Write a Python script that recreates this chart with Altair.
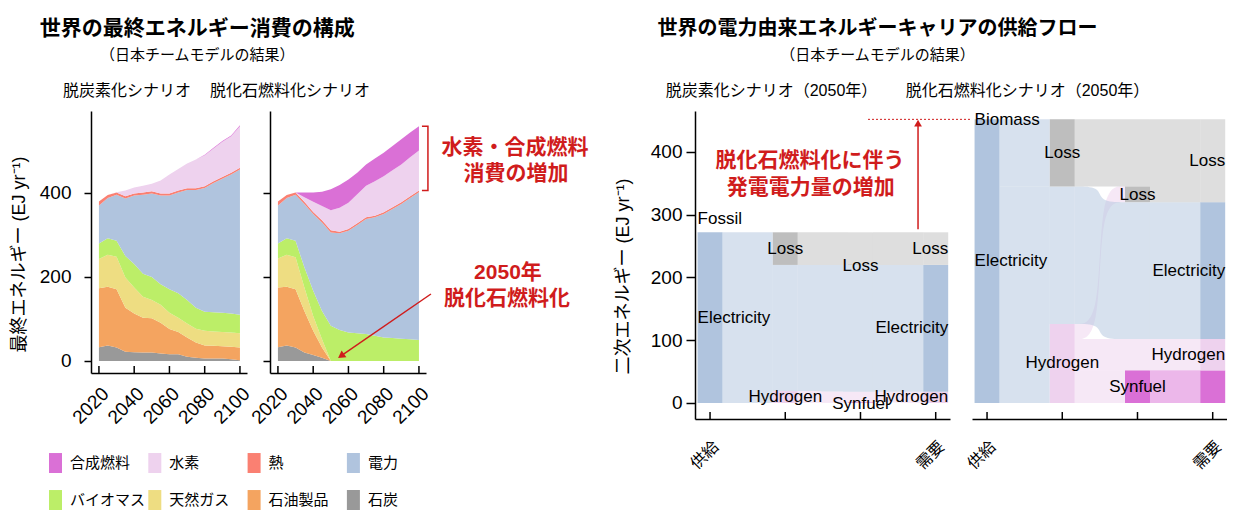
import altair as alt
import pandas as pd

FONT = "Liberation Sans, Noto Sans CJK JP, sans-serif"
RED = "#D01C1C"

# ---------------- left: final energy consumption ----------------
years = list(range(2020, 2101, 5))
categories = ["石炭", "石油製品", "天然ガス", "バイオマス", "電力", "熱", "水素", "合成燃料"]
cat_colors = ["#999999", "#F4A460", "#EEDD82", "#BCEE68", "#B0C4DE", "#FA8072", "#EED2EE", "#DA70D6"]
legend_order = ["合成燃料", "水素", "熱", "電力", "バイオマス", "天然ガス", "石油製品", "石炭"]
legend_cols = [0, 1, 2, 3, 0, 1, 2, 3]
legend_rows = [0, 0, 0, 0, 1, 1, 1, 1]
year_ticks = [2020, 2040, 2060, 2080, 2100]

# 脱炭素化シナリオ (EJ/yr)
dc_coal = [33, 37, 32, 22, 21, 20, 20, 18, 16, 16, 10, 8, 6, 6, 6, 4, 2]
dc_oil = [140, 140, 139, 105, 92, 83, 82, 73, 60, 53, 46, 36, 31, 30, 29, 30, 30]
dc_gas = [70, 76, 77, 72, 62, 50, 43, 43, 39, 34, 33, 33, 35, 34, 34, 34, 34]
dc_bio = [37, 39, 38, 51, 56, 55, 55, 49, 56, 58, 56, 50, 45, 46, 46, 45, 44]
dc_elec = [90, 96, 110, 137, 163, 188, 199, 211, 223, 240, 262, 280, 295, 308, 319, 331, 346]
dc_heat = [10, 7, 5, 5, 5, 5, 5, 5, 5, 5, 4, 4, 4, 4, 4, 4, 4]
dc_h2 = [0, 0, 1, 14, 14, 16, 18, 31, 45, 51, 59, 69, 74, 78, 84, 87, 99]
dc_syn = [0, 0, 0, 0, 0, 0, 0, 0, 0, 0, 0, 0, 1, 2, 2, 2, 2]

# 脱化石燃料化シナリオ (EJ/yr)
df_coal = [33, 37, 32, 20, 14, 8, 0, 0, 0, 0, 0, 0, 0, 0, 0, 0, 0]
df_oil = [142, 140, 139, 99, 58, 24, 0, 0, 0, 0, 0, 0, 0, 0, 0, 0, 0]
df_gas = [69, 76, 76, 56, 35, 20, 0, 0, 0, 0, 0, 0, 0, 0, 0, 0, 0]
df_bio = [36, 39, 39, 48, 60, 67, 84, 74, 68, 66, 64, 60, 56, 55, 53, 52, 50]
df_elec = [90, 96, 110, 151, 183, 211, 222, 230, 242, 258, 274, 282, 294, 307, 321, 336, 352]
df_heat = [10, 7, 5, 5, 5, 5, 5, 4, 4, 4, 4, 4, 4, 4, 4, 4, 4]
df_h2 = [0, 0, 0, 11, 24, 34, 48, 57, 63, 69, 75, 82, 86, 88, 90, 93, 95]
df_syn = [0, 0, 0, 11, 22, 34, 50, 54, 55, 51, 51, 54, 56, 58, 60, 59, 58]

dc_all = [dc_coal, dc_oil, dc_gas, dc_bio, dc_elec, dc_heat, dc_h2, dc_syn]
df_all = [df_coal, df_oil, df_gas, df_bio, df_elec, df_heat, df_h2, df_syn]

# annotation positions (data units of the right area panel)
ann_left_text = ["水素・合成燃料", "消費の増加", "2050年", "脱化石燃料化"]
ann_left_x = [2154.5, 2155, 2150.5, 2150]
ann_left_y = [507, 445, 209, 148]
arrow_left_x = [2106.8, 2055.8]
arrow_left_y = [159.5, 12]
bracket_x = [2101.7, 2105.1]

# ---------------- right: sankey ----------------
stage_ticks = [1, 2, 3, 4]
# 脱炭素化シナリオ (2050年)
s1_col = [1, 2, 2, 2, 3, 3, 3, 3, 3, 4, 4, 4]
s1_name = ["Electricity", "Hydrogen", "Electricity", "Loss", "Synfuel", "Hydrogen",
           "Electricity", "Loss", "Loss", "Hydrogen", "Electricity", "Loss"]
s1_lo = [0, 0, 19, 220, 0, 1, 18, 220, 221, 0, 18, 220]
s1_hi = [272, 19, 220, 272, 1, 18, 220, 221, 272, 18, 220, 272]
s1_kind = ["elec", "hyd", "elec_p", "loss", "syn", "hyd_p", "elec_p", "loss", "loss_p",
           "hyd", "elec", "loss_p"]
s1_links = [
    (1, 0, 19, 0, 19, "elec"), (1, 19, 220, 19, 220, "elec"), (1, 220, 272, 220, 272, "elec"),
    (2, 0, 1, 0, 1, "hyd"), (2, 1, 19, 1, 18, "hyd"), (2, 19, 220, 18, 220, "elec"),
    (2, 220, 272, 220, 272, "loss"),
    (3, 1, 18, 0, 18, "hyd"), (3, 18, 220, 18, 220, "elec"), (3, 220, 272, 220, 272, "loss"),
]
s1_labels = [("Fossil", 1, 293, "left"), ("Electricity", 1, 136, "left"),
             ("Loss", 2, 246, "center"), ("Hydrogen", 2, 9.5, "center"),
             ("Loss", 3, 218, "center"), ("Synfuel", 3, -2, "center"),
             ("Electricity", 4, 119, "right"), ("Loss", 4, 246, "right"),
             ("Hydrogen", 4, 9, "right")]

# 脱化石燃料化シナリオ (2050年)
s2_col = [1, 2, 2, 2, 3, 3, 3, 3, 3, 4, 4, 4, 4]
s2_name = ["Electricity", "Hydrogen", "Electricity", "Loss", "Synfuel", "Hydrogen",
           "Electricity", "Loss", "Loss", "Synfuel", "Hydrogen", "Electricity", "Loss"]
s2_lo = [0, 0, 126, 345, 0, 52, 102, 320, 345, 0, 52, 102, 320]
s2_hi = [452, 126, 345, 452, 52, 102, 320, 345, 452, 52, 102, 320, 452]
s2_kind = ["elec", "hyd", "elec_p", "loss", "syn", "hyd_p", "elec_p", "loss", "loss_p",
           "syn", "hyd", "elec", "loss_p"]
s2_links = [
    (1, 0, 126, 0, 126, "elec"), (1, 126, 345, 126, 345, "elec"), (1, 345, 452, 345, 452, "elec"),
    (2, 0, 52, 0, 52, "hyd"), (2, 52, 102, 52, 102, "hyd"), (2, 102, 126, 320, 345, "hyd"),
    (2, 126, 345, 102, 320, "elec"), (2, 345, 452, 345, 452, "loss"),
    (3, 0, 52, 0, 52, "syn"), (3, 52, 102, 52, 102, "hyd"), (3, 102, 320, 102, 320, "elec"),
    (3, 320, 452, 320, 452, "loss"),
]
s2_labels = [("Biomass", 1, 451, "left"), ("Electricity", 1, 226, "left"),
             ("Loss", 2, 398, "center"), ("Hydrogen", 2, 63, "center"),
             ("Loss", 3, 332, "center"), ("Synfuel", 3, 26, "center"),
             ("Loss", 4, 386, "right"), ("Electricity", 4, 211, "right"),
             ("Hydrogen", 4, 77, "right")]

ann_right_text = ["脱化石燃料化に伴う", "発電電力量の増加"]
ann_right_x = [2.33, 2.34]
ann_right_y = [386, 343]
arrow_right_x = 3.765
arrow_right_y = [277, 446]
dotted_x = [3.10, 4.48]
dotted_y = 452

kind_color = {"elec": "#B0C4DE", "hyd": "#EED2EE", "syn": "#DA70D6", "loss": "#BEBEBE"}

# ---------------- helpers ----------------
XDOM = [2015.5, 2104]
YDOM = [-28.6, 595.2]
PW, PH = 156, 262
TICK_PX = 7
CAT_SCALE = alt.Scale(domain=categories, range=cat_colors)


def stack_df(series_list):
    rows = []
    for k, (cat, vals) in enumerate(zip(categories, series_list)):
        for yr, v in zip(years, vals):
            rows.append({"year": yr, "cat": cat, "value": v, "ord": k})
    return pd.DataFrame(rows)


def area_x(axis_on=True):
    ax = alt.Axis(values=year_ticks, format="d", labelAngle=315, labelAlign="right",
                  labelBaseline="top", labelPadding=4, labelFontSize=19, tickSize=TICK_PX,
                  tickOpacity=0, title=None, labelOverlap=False) if axis_on else None
    return alt.X("year:Q", scale=alt.Scale(domain=XDOM, nice=False, zero=False), axis=ax)


def area_y(first, axis_on=True):
    if not axis_on:
        ax = None
    elif first:
        ax = alt.Axis(values=[0, 200, 400], tickSize=7, labelFontSize=19, labelPadding=13,
                      title="最終エネルギー (EJ yr⁻¹)", titleFontSize=18, titleFontWeight="normal",
                      titleAngle=270, titleX=-72, titleY=143, titleAlign="center",
                      titleBaseline="middle", labelOverlap=False)
    else:
        ax = alt.Axis(values=[0, 200, 400], tickSize=7, labels=False, title=None)
    return alt.Y("value:Q", scale=alt.Scale(domain=YDOM, nice=False, zero=False), axis=ax)


# legend (drawn inside the first panel with its own position scales) from the category lists
leg = pd.DataFrame({"cat": legend_order, "col": legend_cols, "row": legend_rows})
leg["x0"] = leg["col"] - 0.0655
leg["x1"] = leg["col"] + 0.0655
leg["y0"] = leg["row"] - 0.27
leg["y1"] = leg["row"] + 0.27
LX = alt.Scale(domain=[0.3575, 1.9285], nice=False, zero=False)
LY = alt.Scale(domain=[-9.514, -2.433], nice=False, zero=False, reverse=True)
leg_sw = alt.Chart(leg).mark_rect().encode(
    x=alt.X("x0:Q", scale=LX, axis=None), x2="x1:Q",
    y=alt.Y("y0:Q", scale=LY, axis=None), y2="y1:Q",
    color=alt.Color("cat:N", scale=CAT_SCALE, legend=None))
leg_tx = alt.Chart(leg).mark_text(align="left", baseline="middle", dx=14.5, fontSize=15,
                                  color="black").encode(
    x=alt.X("col:Q", scale=LX, axis=None), y=alt.Y("row:Q", scale=LY, axis=None), text="cat:N")


def area_panel(series_list, title, dx, first):
    data = stack_df(series_list)
    area = alt.Chart(data).mark_area(interpolate="linear").encode(
        x=area_x(), y=area_y(first),
        color=alt.Color("cat:N", scale=CAT_SCALE, legend=None),
        order=alt.Order("ord:Q", sort="ascending"),
    )
    # inward x ticks (drawn from the axis line upward)
    tk = pd.DataFrame({"year": year_ticks, "value": [YDOM[0]] * len(year_ticks),
                       "v2": [YDOM[0] + TICK_PX * (YDOM[1] - YDOM[0]) / PH] * len(year_ticks)})
    ticks = alt.Chart(tk).mark_rule(color="black", strokeWidth=1.5).encode(
        x=area_x(not first), y=area_y(first, not first), y2="v2:Q")
    layers = [area, ticks]
    if not first:
        total = sum(s[-1] for s in series_list)
        heat_top = sum(s[-1] for s in series_list[:6])
        br = pd.DataFrame({"year": [bracket_x[0], bracket_x[1], bracket_x[1], bracket_x[0]],
                           "value": [total, total, heat_top, heat_top],
                           "k": [0, 1, 2, 3]})
        layers.append(alt.Chart(br).mark_line(color=RED, strokeWidth=1.5).encode(
            x=area_x(), y=area_y(first), order="k:Q"))
        tx = pd.DataFrame({"year": ann_left_x, "value": ann_left_y, "t": ann_left_text})
        layers.append(alt.Chart(tx).mark_text(color=RED, fontSize=21, fontWeight="bold",
                                              align="center", baseline="middle").encode(
            x=area_x(), y=area_y(first), text="t:N"))
        ar = pd.DataFrame({"year": arrow_left_x, "value": arrow_left_y, "k": [0, 1]})
        layers.append(alt.Chart(ar).mark_line(color=RED, strokeWidth=1.5).encode(
            x=area_x(), y=area_y(first), order="k:Q"))
        layers.append(alt.Chart(ar.iloc[[1]]).mark_point(shape="triangle-up", filled=True,
                                                        color=RED, size=70, angle=235,
                                                        opacity=1).encode(
            x=area_x(), y=area_y(first)))
        ch = alt.layer(*layers)
    else:
        ch = alt.layer(area, ticks, leg_sw, leg_tx).resolve_scale(x="independent", y="independent")
    return ch.properties(
        width=PW, height=PH,
        title=alt.TitleParams(title, anchor="middle", frame="group", dx=dx, fontSize=16,
                              fontWeight="normal", offset=12, color="black"))


p1 = area_panel(dc_all, "脱炭素化シナリオ", -42, True)
p2 = area_panel(df_all, "脱化石燃料化シナリオ", -58, False)

# ---------------- sankey panels ----------------
SXD = [0.8, 4.19]
SYD = [-25.5, 465.3]
SX = alt.Scale(domain=SXD, nice=False, zero=False)
SY = alt.Scale(domain=SYD, nice=False, zero=False)
SW, SH = 255, 308
NH = 0.166


def sk_x():
    return alt.X("x:Q", scale=SX, axis=alt.Axis(
        values=stage_ticks,
        labelExpr="datum.value == 1 ? '供給' : (datum.value == 4 ? '需要' : '')",
        labelAngle=315, labelAlign="right", labelBaseline="top", labelPadding=12,
        labelFontSize=16, tickSize=TICK_PX, tickOpacity=0, title=None, labelOverlap=False))


def sk_y(first):
    if first:
        return alt.Y("y:Q", scale=SY, axis=alt.Axis(
            values=[0, 100, 200, 300, 400], tickSize=9, labelFontSize=19, labelPadding=4,
            title="二次エネルギー (EJ yr⁻¹)", titleFontSize=18, titleFontWeight="normal",
            titleAngle=270, titleX=-72, titleY=165, titleAlign="center", titleBaseline="middle",
            labelOverlap=False))
    return alt.Y("y:Q", scale=SY, axis=None)


def sankey_panel(cols, names, lo, hi, kinds, links, labels, title, dx, first):
    nodes = pd.DataFrame({"col": cols, "name": names, "y": lo, "y2f": hi, "kind": kinds})
    nodes["x"] = nodes["col"] - NH
    nodes["x2f"] = nodes["col"] + NH
    nodes["fill"] = [kind_color[k.replace("_p", "")] for k in kinds]
    nodes["op"] = [0.5 if k.endswith("_p") else 1.0 for k in kinds]
    rows = []
    for i, (src, a0, b0, a1, b1, kind) in enumerate(links):
        x0 = src + NH
        x1 = src + 1 - NH
        xm = (x0 + x1) / 2
        pts = [(x0, a0, b0), (xm, a0, b0), (xm + 1e-6, a1, b1), (x1, a1, b1)]
        for k, (xx, l, h) in enumerate(pts):
            rows.append({"lid": i, "k": k, "x": xx, "y": l, "y2f": h, "fill": kind_color[kind]})
    lk = pd.DataFrame(rows)
    lab = pd.DataFrame(labels, columns=["t", "col", "y", "al"])
    lab["x"] = [c - NH if a == "left" else (c + NH if a == "right" else c)
                for c, a in zip(lab["col"], lab["al"])]

    link_layer = alt.Chart(lk).mark_area(interpolate="basis", opacity=0.5).encode(
        x=sk_x(), y=sk_y(first), y2="y2f:Q", detail="lid:N",
        color=alt.Color("fill:N", scale=None))
    node_layer = alt.Chart(nodes).mark_rect().encode(
        x=sk_x(), x2="x2f:Q", y=sk_y(first), y2="y2f:Q",
        color=alt.Color("fill:N", scale=None), opacity=alt.Opacity("op:Q", scale=None))
    tk = pd.DataFrame({"x": stage_ticks, "y": [SYD[0]] * len(stage_ticks),
                       "y2f": [SYD[0] + TICK_PX * (SYD[1] - SYD[0]) / SH] * len(stage_ticks)})
    tick_layer = alt.Chart(tk).mark_rule(color="black", strokeWidth=1.5).encode(
        x=sk_x(), y=sk_y(first), y2="y2f:Q")
    layers = [link_layer, node_layer, tick_layer]
    for al in ["left", "center", "right"]:
        layers.append(alt.Chart(lab[lab["al"] == al]).mark_text(
            align=al, baseline="middle", fontSize=17, color="black").encode(
            x=sk_x(), y=sk_y(first), text="t:N"))
    if first:
        tx = pd.DataFrame({"x": ann_right_x, "y": ann_right_y, "t": ann_right_text})
        layers.append(alt.Chart(tx).mark_text(color=RED, fontSize=21, fontWeight="bold",
                                              align="center", baseline="middle").encode(
            x=sk_x(), y=sk_y(first), text="t:N"))
        ar = pd.DataFrame({"x": [arrow_right_x], "y": [arrow_right_y[0]], "y2f": [arrow_right_y[1]]})
        layers.append(alt.Chart(ar).mark_rule(color=RED, strokeWidth=1.5).encode(
            x=sk_x(), y=sk_y(first), y2="y2f:Q"))
        head = pd.DataFrame({"x": [arrow_right_x], "y": [arrow_right_y[1]]})
        layers.append(alt.Chart(head).mark_point(shape="triangle-up", filled=True, color=RED,
                                                 size=60, opacity=1).encode(
            x=sk_x(), y=sk_y(first)))
        dt = pd.DataFrame({"x": [dotted_x[0]], "x2f": [dotted_x[1]], "y": [dotted_y]})
        layers.append(alt.Chart(dt).mark_rule(color=RED, strokeWidth=1, strokeDash=[2, 2]).encode(
            x=sk_x(), x2="x2f:Q", y=sk_y(first)))
    return alt.layer(*layers).properties(
        width=SW, height=SH,
        title=alt.TitleParams(title, anchor="middle", frame="group", dx=dx, fontSize=16,
                              fontWeight="normal", offset=12, color="black"))


p3 = sankey_panel(s1_col, s1_name, s1_lo, s1_hi, s1_kind, s1_links, s1_labels,
                  "脱炭素化シナリオ（2050年）", -51, True)
p4 = sankey_panel(s2_col, s2_name, s2_lo, s2_hi, s2_kind, s2_links, s2_labels,
                  "脱化石燃料化シナリオ（2050年）", -72, False)

left = alt.hconcat(
    p1, p2, spacing=23, bounds="flush",
    title=alt.TitleParams("世界の最終エネルギー消費の構成", subtitle="（日本チームモデルの結果）",
                          anchor="middle", dx=-102, fontSize=21, fontWeight="bold",
                          subtitleFontSize=15, subtitlePadding=9, offset=20,
                          color="black", subtitleColor="black"))
right = alt.hconcat(
    p3, p4, spacing=22, bounds="flush",
    title=alt.TitleParams("世界の電力由来エネルギーキャリアの供給フロー",
                          subtitle="（日本チームモデルの結果）",
                          anchor="middle", dx=-43, fontSize=20, fontWeight="bold",
                          subtitleFontSize=15, subtitlePadding=9, offset=20,
                          color="black", subtitleColor="black"))

chart = alt.hconcat(left, right, spacing=25).properties(
    padding={"left": 2, "top": 10, "right": 0, "bottom": 0}
).configure(font=FONT).configure_view(stroke=None).configure_axis(
    grid=False, domainColor="black", tickColor="black", labelColor="black",
    titleColor="black", domainWidth=1.5, tickWidth=1.5, labelFont=FONT, titleFont=FONT
).configure_title(font=FONT, subtitleFont=FONT)

chart.save("out.html", embed_options={"renderer": "svg", "actions": False})
